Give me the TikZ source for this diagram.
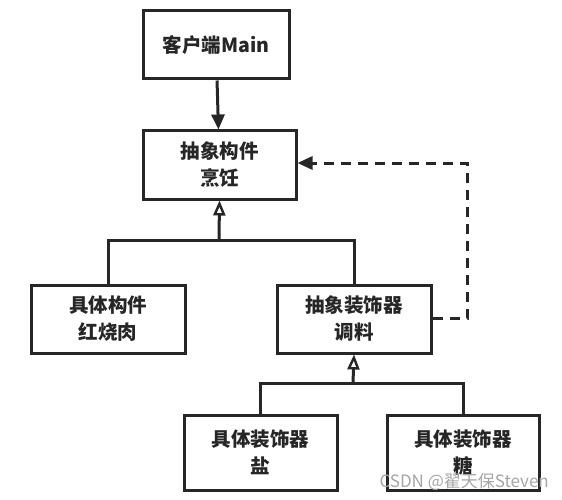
\documentclass[tikz,border=0pt]{standalone}
\usepackage{fontspec}
\newfontfamily\cjk{Noto Sans CJK SC}
\usetikzlibrary{arrows.meta}
\begin{document}
\begin{tikzpicture}[x=1pt,y=-1pt,
  box/.style={draw=black!85, line width=3pt, fill=white, minimum width=#1, align=center, font=\cjk\bfseries\fontsize{19.5}{27}\selectfont, text=black!85, inner sep=0pt},
  box/.default=152pt,
  conn/.style={draw=black!85, line width=3pt},
  inh/.style={conn, -{Triangle[open, length=15pt, width=12pt, line width=2.4pt]}},
  dep/.style={conn, dash pattern=on 10pt off 7pt, -{Triangle[length=15pt, width=13pt]}}]
\useasboundingbox (0,0) rectangle (562,500);
\node[box=146pt, minimum height=68pt] (client) at (216,45) {客户端Main};
\node[box=153pt, minimum height=68pt] (comp) at (219.5,165) {抽象构件\\烹饪};
\node[box=154pt, minimum height=68pt] (meat) at (108,319) {具体构件\\红烧肉};
\node[box=154pt, minimum height=68pt] (deco) at (354,319) {抽象装饰器\\调料};
\node[box=153pt, minimum height=75pt] (salt) at (260.5,452.5) {具体装饰器\\盐};
\node[box=152pt, minimum height=75pt] (sugar) at (463,452.5) {具体装饰器\\糖};
\coordinate (j1) at (219,240);
\coordinate (j2) at (353,383);
\coordinate (d1) at (467,318);
\coordinate (d2) at (467,163);
\draw[conn, -{Triangle[length=15pt, width=13pt]}] (client) -- (comp);
\draw[conn] (meat.north) |- (j1) -| (deco.north);
\draw[inh] (j1) -- (comp.south);
\draw[conn] (salt.north) |- (j2) -| (sugar.north);
\draw[inh] (j2) -- (deco.south);
\draw[dep] (deco.east |- d1) -- (d1) -- (d2) -- (comp.east |- d2);
\node[font=\cjk\fontsize{17}{18}\selectfont, text=black!35, anchor=east, inner sep=0pt] (wm) at (549,482) {CSDN @翟天保Steven};
\end{tikzpicture}
\end{document}
